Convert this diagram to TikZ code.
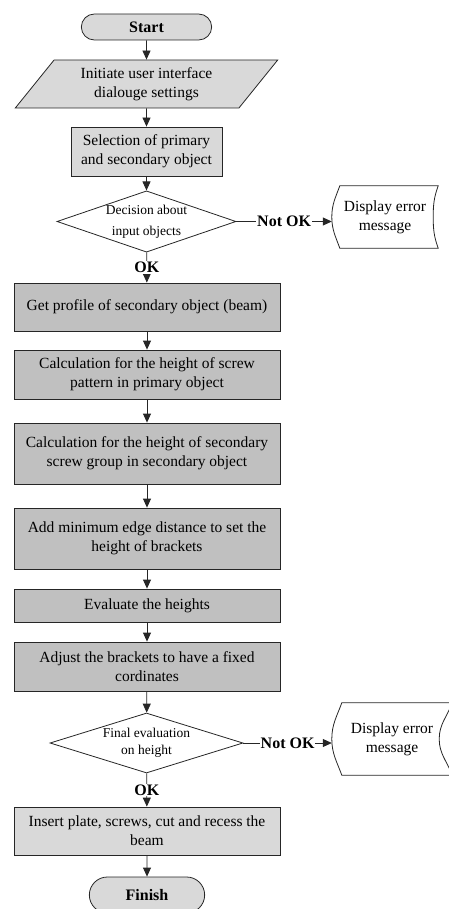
\documentclass[tikz,border=0pt]{standalone}
\usepackage{fontspec}
\setmainfont{Liberation Serif}
\usetikzlibrary{arrows.meta,positioning,shapes.geometric,shapes.misc}
\definecolor{lightfill}{HTML}{D9D9D9}
\definecolor{darkfill}{HTML}{C0C0C0}
\definecolor{linecol}{HTML}{262626}
\newcommand\boxfont{\fontsize{15.5}{19}\selectfont}
\newcommand\decfont{\fontsize{13.5}{17}\selectfont}
\newcommand\tagfont{\fontsize{16}{19}\selectfont\bfseries}
\tikzset{
    term/.style =   {rounded rectangle,
                    fill=lightfill,
                    draw=linecol,
                    line width=0.8pt,
                    minimum width=137pt,
                    minimum height=26pt,
                    font=\tagfont},
    io/.style =     {trapezium,
                    trapezium left angle=54,
                    trapezium right angle=126,
                    trapezium stretches=true,
                    fill=lightfill,
                    draw=linecol,
                    line width=0.8pt,
                    minimum width=263pt,
                    minimum height=48pt,
                    align=center,
                    font=\boxfont},
    box/.style =    {rectangle,
                    fill=darkfill,
                    draw=linecol,
                    line width=0.8pt,
                    minimum width=266pt,
                    inner sep=2pt,
                    align=center,
                    font=\boxfont},
    lbox/.style =   {box,
                    fill=lightfill},
    decision/.style = {diamond,
                    fill=white,
                    draw=linecol,
                    line width=0.8pt,
                    aspect=2.9,
                    inner sep=0pt,
                    align=center,
                    font=\decfont},
    display/.style = {rectangle,
                    inner sep=0pt,
                    align=center,
                    font=\boxfont},
    outline/.style = {draw=linecol,
                    line width=0.8pt},
    flow/.style =   {outline,
                    -{Triangle[width=8pt,length=9pt]}},
    tag/.style =    {fill=white,
                    inner sep=1pt,
                    font=\tagfont},
}

\begin{document}
\begin{tikzpicture}[x=1pt,y=1pt]
    \useasboundingbox (0,0) rectangle (449,-909);
    % main column
    \node[term]     (start)     at (146.5,-27)  {Start};
    \node[io]       (init)      at (146.5,-84)  {Initiate user interface\\dialouge settings};
    \node[lbox]     (select)    at (146.5,-151.5) [minimum width=151pt, minimum height=49pt] {Selection of primary\\and secondary object};
    \node[decision] (check)     at (146.5,-221.5) [minimum width=179pt, minimum height=61pt] {Decision about\\[4pt]input objects};
    \node[box]      (profile)   at (147,-307)   [minimum height=48pt] {Get profile of secondary object (beam)};
    \node[box]      (pattern)   at (147,-374.5) [minimum height=49pt] {Calculation for the height of screw\\pattern in primary object};
    \node[box]      (group)     at (147,-453.5) [minimum height=61pt] {Calculation for the height of secondary\\screw group in secondary object};
    \node[box]      (edgedist)  at (147,-538.5) [minimum height=61pt] {Add minimum edge distance to set the\\height of brackets};
    \node[box]      (evaluate)  at (147,-605.5) [minimum height=33pt] {Evaluate the heights};
    \node[box]      (adjust)    at (147,-666.5) [minimum height=49pt] {Adjust the brackets to have a fixed\\cordinates};
    \node[decision] (final)     at (146.5,-743) [minimum width=193pt, minimum height=60pt] {Final evaluation\\on height};
    \node[lbox]     (insert)    at (147,-831)   [minimum height=48pt] {Insert plate, screws, cut and recess the\\beam};
    \node[term]     (finish)    at (147,-895)   [minimum width=122pt, minimum height=36pt] {Finish};
    % error messages
    \node[display]  (error1)    at (385,-217) [minimum width=106pt, minimum height=62pt] {Display error\\message};
    \node[display]  (error2)    at (392,-739) [minimum width=120pt, minimum height=72pt] {Display error\\message};
    \draw[outline] ([xshift=8pt]error1.north west) to[out=-110,in=90] (error1.west) to[out=-90,in=110] ([xshift=8pt]error1.south west)
        -- (error1.south east) to[out=110,in=-90] ([xshift=-5pt]error1.east) to[out=90,in=-110] (error1.north east) -- cycle;
    \draw[outline] ([xshift=10pt]error2.north west) to[out=-110,in=90] (error2.west) to[out=-90,in=110] ([xshift=10pt]error2.south west)
        -- (error2.south east) to[out=110,in=-90] ([xshift=-13pt]error2.east) to[out=90,in=-110] (error2.north east) -- cycle;
    % connectors
    \draw[flow] (start) -- (init);
    \draw[flow] (init) -- (select);
    \draw[flow] (select) -- (check);
    \draw[flow] (check) -- node[tag] {OK} (profile);
    \draw[flow] (profile) -- (pattern);
    \draw[flow] (pattern) -- (group);
    \draw[flow] (group) -- (edgedist);
    \draw[flow] (edgedist) -- (evaluate);
    \draw[flow] (evaluate) -- (adjust);
    \draw[flow] (adjust) -- (final);
    \draw[flow] (final) -- node[tag] {OK} (insert);
    \draw[flow] (insert) -- (finish);
    \draw[flow] (check.east) -- node[tag] {Not OK} (check.east -| error1.west);
    \draw[flow] (final.east) -- node[tag] {Not OK} (final.east -| error2.west);
\end{tikzpicture}
\end{document}
